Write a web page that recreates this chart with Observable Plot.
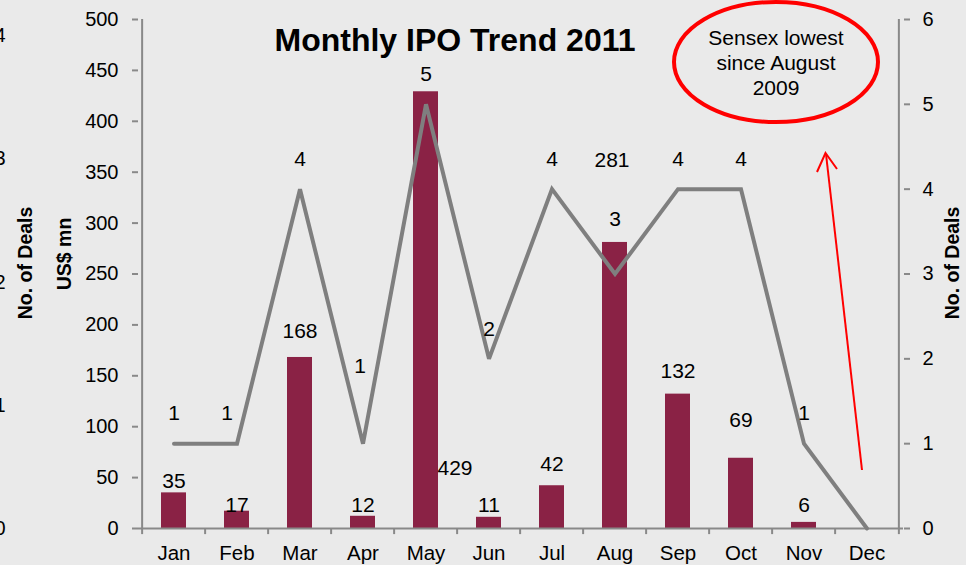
<!DOCTYPE html>
<html><head><meta charset="utf-8">
<script src="https://cdn.jsdelivr.net/npm/d3@7"></script>
<script src="https://cdn.jsdelivr.net/npm/@observablehq/plot@0.6"></script>
<style>
html,body{margin:0;padding:0;background:#eaeaea;}
#chart{width:966px;height:565px;overflow:hidden;}
</style></head><body><div id="chart"></div>
<script>
const months = ["Jan","Feb","Mar","Apr","May","Jun","Jul","Aug","Sep","Oct","Nov","Dec"];
const usdMn = [35,17,168,12,429,11,42,281,132,69,6,0];
const deals = [1,1,4,1,5,2,4,3,4,4,1,0];
const usdTicks = [0,50,100,150,200,250,300,350,400,450,500];
const dealTicks = [0,1,2,3,4,5,6];
const croppedTicks = [0,1,2,3,4];
const titleText = "Monthly IPO Trend 2011";
const noteLines = ["Sensex lowest","since August","2009"];
const leftTitle = "US$ mn";
const rightTitle = "No. of Deals";

const rows = months.map((m,i)=>({month:m, usd:usdMn[i], deals:deals[i]}));
const dealMax = 6, usdMax = 500;
const toUsd = v => v * usdMax / dealMax;

// label offsets (styling only)
const barDy = {Jan:-12,Feb:-6,Mar:-26,Apr:-11,Jun:-12,Jul:-21,Sep:-23,Oct:-38,Nov:-17};
const lineDy = {Apr:-77, Aug:-55};
const lineDx = {Feb:-10, Apr:-3};

const axisColor = "#898989";
const barColor = "#8a2245";
const lineColor = "#7f7f7f";
const half = 765/12/2;
const labelSize = 21;

const marks = [];
// bars
marks.push(Plot.barY(rows, {x:"month", y:"usd", fill:barColor, style:"filter:drop-shadow(2px 1px 2px rgba(0,0,0,0.28))"}));
// axes lines
marks.push(Plot.ruleY([0], {stroke:axisColor, strokeWidth:2}));
marks.push(Plot.ruleX(["Jan"], {x:d=>d, dx:-half, y1:0, y2:usdMax, stroke:axisColor, strokeWidth:2}));
marks.push(Plot.ruleX(["Dec"], {x:d=>d, dx:half, y1:0, y2:usdMax, stroke:axisColor, strokeWidth:2}));
// x boundary ticks
marks.push(Plot.ruleX(months, {x:d=>d, dx:-half, y1:0, y2:-6, stroke:axisColor, strokeWidth:2}));
marks.push(Plot.ruleX(["Dec"], {x:d=>d, dx:half, y1:0, y2:-6, stroke:axisColor, strokeWidth:2}));
// axes
marks.push(Plot.axisY(usdTicks, {anchor:"left", tickSize:6, tickPadding:14, stroke:axisColor, strokeWidth:2, fontSize:20, label:null}));
marks.push(Plot.axisY(dealTicks.map(toUsd), {anchor:"right", tickSize:6, tickPadding:13, stroke:axisColor, strokeWidth:2, fontSize:20, label:null, tickFormat:d=>String(Math.round(d*dealMax/usdMax))}));
marks.push(Plot.axisX(months, {anchor:"bottom", tickSize:0, tickPadding:17, fontSize:20.5, label:null}));
// line
marks.push(Plot.line(rows, {x:"month", y:d=>toUsd(d.deals), stroke:lineColor, strokeWidth:4, strokeLinejoin:"miter", strokeMiterlimit:3}));
// bar labels
rows.forEach(r=>{
  if (r.usd === 0) return;
  if (r.month === "May") {
    marks.push(Plot.text([r], {x:"month", y:0, text:d=>String(d.usd), dx:29, dy:-60, fontSize:labelSize}));
  } else if (r.month === "Aug") {
    marks.push(Plot.text([r], {x:"month", y:"usd", text:d=>String(d.usd), dx:-3, dy:-82, fontSize:labelSize}));
  } else {
    marks.push(Plot.text([r], {x:"month", y:"usd", text:d=>String(d.usd), dy:barDy[r.month], fontSize:labelSize}));
  }
});
// line labels
rows.forEach(r=>{
  if (r.deals === 0) return;
  marks.push(Plot.text([r], {x:"month", y:d=>toUsd(d.deals), text:d=>String(d.deals), dy:lineDy[r.month] ?? -30, dx:lineDx[r.month] ?? 0, fontSize:labelSize}));
});
// titles
marks.push(Plot.text([titleText], {text:d=>d, frameAnchor:"top", textAnchor:"middle", dx:-66, dy:9, fontSize:32, fontWeight:"bold"}));
marks.push(Plot.text([leftTitle], {text:d=>d, frameAnchor:"left", textAnchor:"middle", dx:-74, dy:-20, rotate:-90, fontSize:19.5, fontWeight:"bold"}));
marks.push(Plot.text([rightTitle], {text:d=>d, frameAnchor:"right", textAnchor:"middle", dx:49, dy:-11, rotate:-90, fontSize:19.5, fontWeight:"bold"}));
// cropped remnants of neighbouring chart at left edge
marks.push(Plot.text([rightTitle], {text:d=>d, frameAnchor:"left", textAnchor:"middle", dx:-113, dy:-11, rotate:-90, fontSize:19.5, fontWeight:"bold"}));
marks.push(Plot.text(croppedTicks, {text:d=>String(d), y:d=>d*121, frameAnchor:"left", dx:-133, textAnchor:"end", fontSize:20}));
// annotation: ellipse, note, arrow
marks.push(() => {
  const g = d3.create("svg:g");
  g.append("ellipse").attr("cx",776).attr("cy",62).attr("rx",102).attr("ry",60)
    .attr("fill","none").attr("stroke","#ff0000").attr("stroke-width",4);
  const t = g.append("text").attr("text-anchor","middle").attr("font-size",21).attr("fill","#000");
  noteLines.forEach((s,i)=>t.append("tspan").attr("x",776).attr("y",45+i*25).text(s));
  g.append("line").attr("x1",862).attr("y1",470).attr("x2",826).attr("y2",154).attr("stroke","#ff0000").attr("stroke-width",2);
  g.append("path").attr("d","M817,172 L825.5,153 L837,169").attr("fill","none").attr("stroke","#ff0000").attr("stroke-width",2);
  return g.node();
});

const chart = Plot.plot({
  width:966, height:565,
  marginLeft:138, marginRight:63, marginTop:19, marginBottom:37,
  x:{domain:months, paddingInner:0.6, paddingOuter:0.3, axis:null},
  y:{domain:[0,usdMax], axis:null},
  style:{background:"#eaeaea", fontFamily:"'Liberation Sans', Arial, sans-serif", fontSize:"20px", color:"#000", overflow:"visible"},
  marks
});
document.getElementById("chart").appendChild(chart);
</script></body></html>
